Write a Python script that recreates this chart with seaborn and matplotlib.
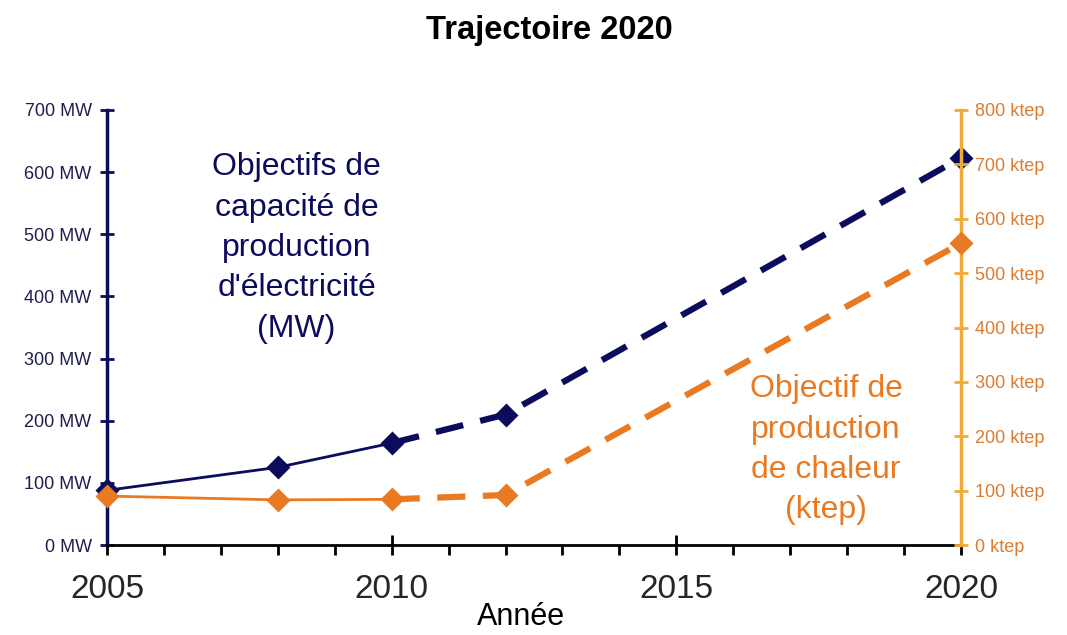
import pandas as pd
import numpy as np
import matplotlib
matplotlib.use("Agg")
import matplotlib.pyplot as plt
import seaborn as sns
from matplotlib.ticker import MultipleLocator, FuncFormatter

# ==================================================
# DATA
# ==================================================

years = [2005, 2008, 2010, 2012, 2020]
electricite_mw = [88, 125, 164, 210, 623]
chaleur_ktep = [90, 83, 84, 92, 555]

# last year of the observed (solid) part
last_real_year = 2010

# ==================================================
# STYLE
# ==================================================

sns.set_theme(style="white")
plt.rcParams['font.family'] = ['Liberation Sans', 'DejaVu Sans']

navy = "#0c0c5c"
orange = "#ea7a22"
gold = "#f0aa35"
orange_txt = "#dc7c30"

df = pd.DataFrame({
    'year': years,
    'mw': electricite_mw,
    'ktep': chaleur_ktep,
})
real = df[df['year'] <= last_real_year]
proj = df[df['year'] >= last_real_year]

fig = plt.figure(figsize=(10.67, 6.35), dpi=100)
ax = fig.add_axes([0.1003, 0.1417, 0.8003, 0.6851])
ax2 = ax.twinx()

# electricity (left axis)
sns.lineplot(x='year', y='mw', data=real, ax=ax, color=navy, linewidth=2)
sns.lineplot(x='year', y='mw', data=proj, ax=ax, color=navy, linewidth=4.5)
ax.lines[-1].set_dashes([4.5, 2.8])
sns.scatterplot(x='year', y='mw', data=df, ax=ax, color=navy, marker='D',
                s=150, edgecolor=navy, linewidth=0, zorder=5, clip_on=False)

# heat (right axis)
sns.lineplot(x='year', y='ktep', data=real, ax=ax2, color=orange, linewidth=2)
sns.lineplot(x='year', y='ktep', data=proj, ax=ax2, color=orange, linewidth=4.5)
ax2.lines[-1].set_dashes([4.5, 2.8])
sns.scatterplot(x='year', y='ktep', data=df, ax=ax2, color=orange, marker='D',
                s=150, edgecolor=orange, linewidth=0, zorder=5, clip_on=False)

# ==================================================
# AXES
# ==================================================

ax.set_xlim(2005, 2020)
ax.set_ylim(0, 700)
ax2.set_ylim(0, 800)

ax.xaxis.set_major_locator(MultipleLocator(5))
ax.xaxis.set_minor_locator(MultipleLocator(1))
ax.yaxis.set_major_locator(MultipleLocator(100))
ax2.yaxis.set_major_locator(MultipleLocator(100))

ax.yaxis.set_major_formatter(FuncFormatter(lambda v, p: f"{int(v)} MW"))
ax2.yaxis.set_major_formatter(FuncFormatter(lambda v, p: f"{int(v)} ktep"))

for a in (ax, ax2):
    a.set_xlabel("")
    a.set_ylabel("")
    a.grid(False)
    for s in a.spines.values():
        s.set_visible(False)

ax.spines['left'].set_visible(True)
ax.spines['left'].set_color(navy)
ax.spines['left'].set_linewidth(2.5)
ax.spines['bottom'].set_visible(True)
ax.spines['bottom'].set_color("black")
ax.spines['bottom'].set_linewidth(2)
ax2.spines['right'].set_visible(True)
ax2.spines['right'].set_color(gold)
ax2.spines['right'].set_linewidth(2.5)

ax.tick_params(axis='x', which='major', direction='inout', length=14, width=2,
               color='black', labelsize=24, pad=14, bottom=True)
ax.tick_params(axis='x', which='minor', direction='out', length=7, width=2,
               color='black', bottom=True)
ax.tick_params(axis='y', which='major', direction='inout', length=10, width=2,
               color=navy, labelcolor="#1e1e50", labelsize=13, pad=6, left=True)
ax2.tick_params(axis='y', which='major', direction='inout', length=10, width=2,
                color=gold, labelcolor=orange_txt, labelsize=13, pad=5, right=True)

fig.text(0.515, 0.952, "Trajectoire 2020", ha='center', va='center',
         fontsize=23.5, fontweight='bold', color='black')
fig.text(0.488, 0.028, "Année", ha='center', va='center', fontsize=22, color='black')

# ==================================================
# LABELS IN THE PLOT
# ==================================================

ax.text(2008.33, 478,
        "Objectifs de\ncapacité de\nproduction\nd'électricité\n(MW)",
        ha='center', va='center', fontsize=23, color=navy, linespacing=1.45)
ax.text(2017.63, 153,
        "Objectif de\nproduction\nde chaleur\n(ktep)",
        ha='center', va='center', fontsize=23, color=orange, linespacing=1.45)

fig.savefig("out.png", dpi=100)
